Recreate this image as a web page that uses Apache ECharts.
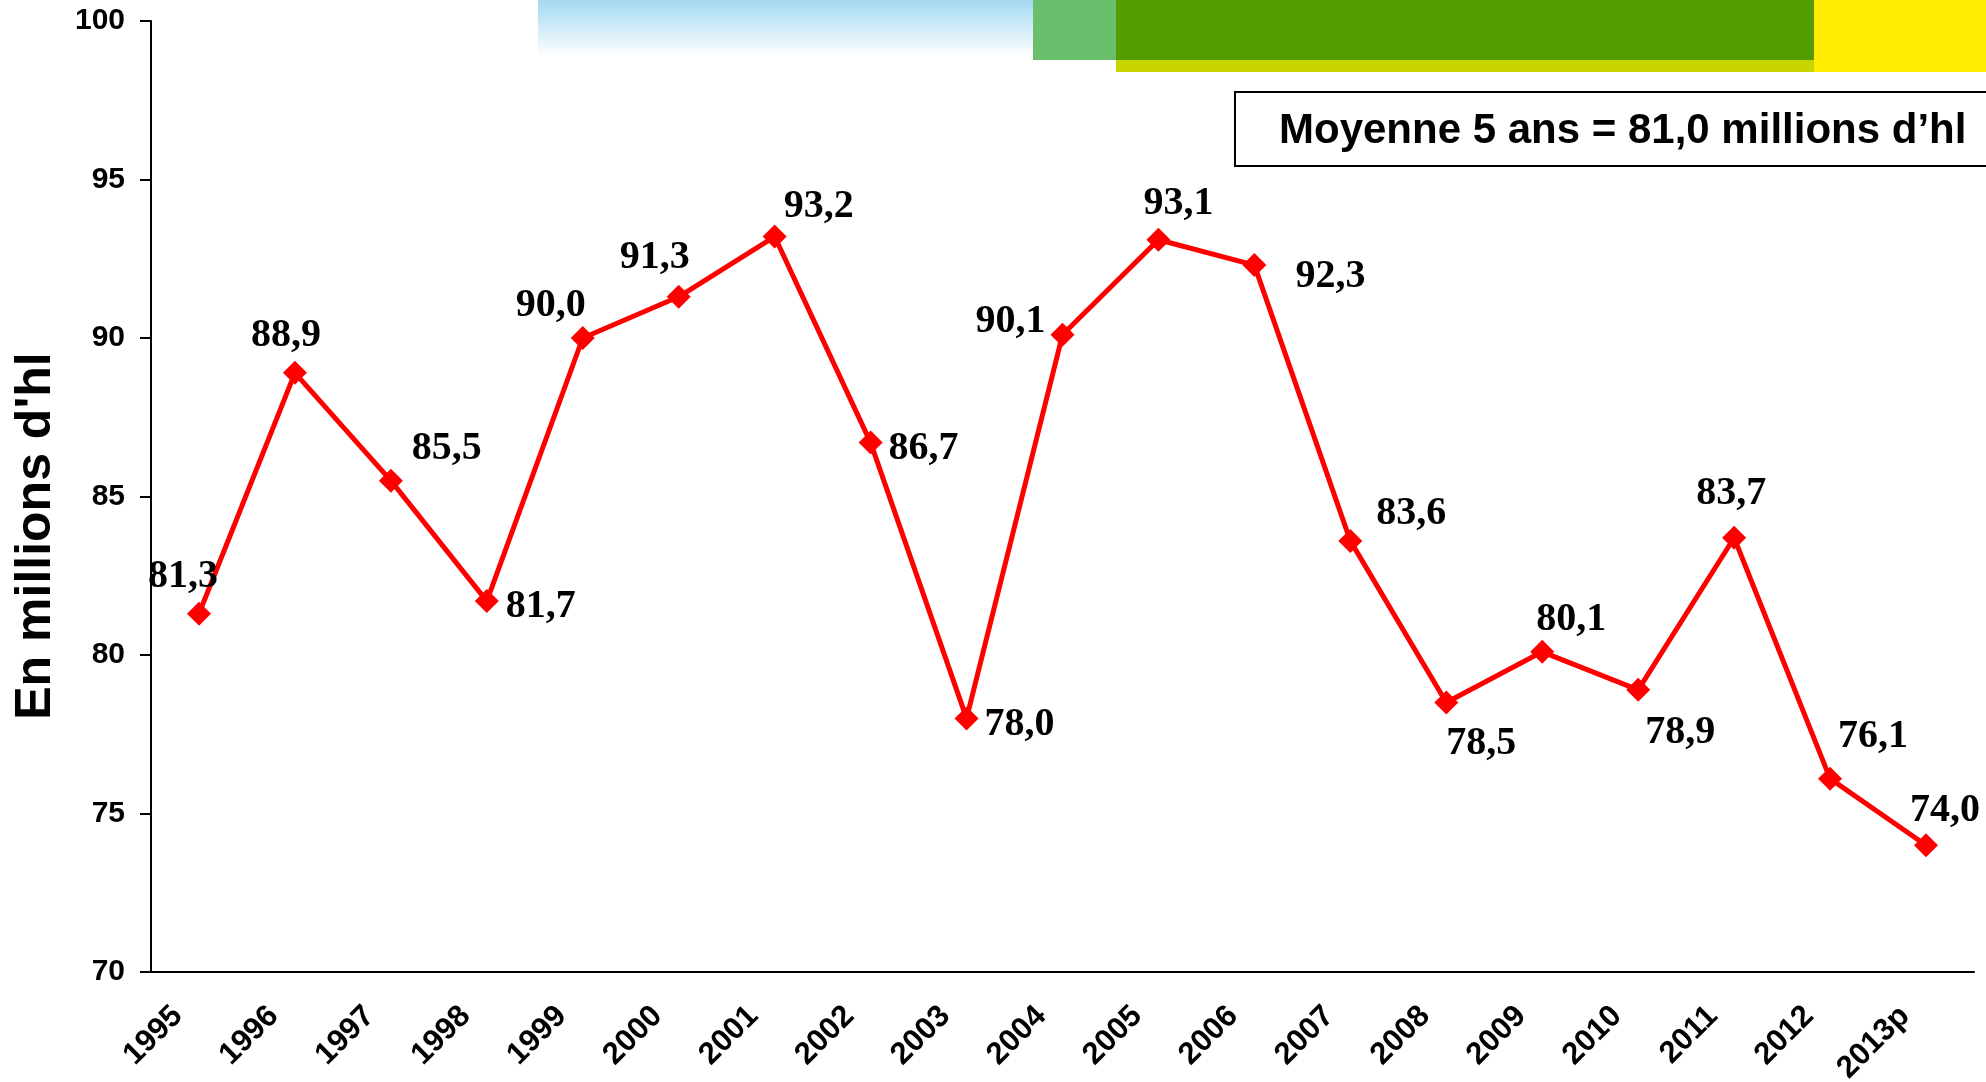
<!DOCTYPE html>
<html>
<head>
<meta charset="utf-8">
<script src="https://cdn.jsdelivr.net/npm/echarts@6/dist/echarts.min.js"></script>
<style>
  html, body { margin: 0; padding: 0; background: #fff; }
  #chart { width: 1986px; height: 1082px; }
</style>
</head>
<body>
<div id="chart"></div>
<script>
// données : production en millions d'hl
var annees = ['1995', '1996', '1997', '1998', '1999', '2000', '2001', '2002', '2003', '2004',
              '2005', '2006', '2007', '2008', '2009', '2010', '2011', '2012', '2013p'];
var production = [81.3, 88.9, 85.5, 81.7, 90.0, 91.3, 93.2, 86.7, 78.0, 90.1,
                  93.1, 92.3, 83.6, 78.5, 80.1, 78.9, 83.7, 76.1, 74.0];
var moyenneTexte = 'Moyenne 5 ans = 81,0 millions d\u2019hl';

// décalage des étiquettes par rapport au point
var decalages = [[-16, -37], [-9, -37], [56, -32], [54, 6], [-32, -32], [-24, -39], [44, -30],
                 [53, 6], [53, 6], [-52, -13], [20, -36], [76, 12], [61, -27], [35, 41],
                 [29, -32], [42, 43], [-3, -44], [43, -42], [19, -35]];

var myChart = echarts.init(document.getElementById('chart'));

var donnees = production.map(function (v, i) {
    return { value: v, label: { offset: decalages[i] } };
});

var option = {
    animation: false,
    grid: { left: 151, right: 12, top: 21, bottom: 110, outerBoundsMode: 'none', containLabel: false },
    xAxis: {
        type: 'category',
        data: annees,
        boundaryGap: true,
        axisLine: { lineStyle: { color: '#000', width: 2 } },
        axisTick: { length: 9, lineStyle: { color: '#000', width: 2 } },
        axisLabel: {
            rotate: 45,
            margin: 18,
            padding: [0, 30, 0, 0],
            color: '#000',
            fontFamily: '"Liberation Sans", Arial, sans-serif',
            fontWeight: 'bold',
            fontSize: 31
        }
    },
    yAxis: {
        type: 'value',
        min: 70,
        max: 100,
        interval: 5,
        splitLine: { show: false },
        axisLine: { show: true, lineStyle: { color: '#000', width: 2 } },
        axisTick: { show: true, length: 11, lineStyle: { color: '#000', width: 2 } },
        axisLabel: {
            margin: 26,
            color: '#000',
            fontFamily: '"Liberation Sans", Arial, sans-serif',
            fontWeight: 'bold',
            fontSize: 30
        }
    },
    graphic: [
        {
            type: 'rect', z: -10,
            shape: { x: 538, y: 0, width: 495, height: 57 },
            style: {
                fill: new echarts.graphic.LinearGradient(0, 0, 0, 1, [
                    { offset: 0, color: '#a4d9f2' },
                    { offset: 1, color: '#ffffff' }
                ])
            }
        },
        { type: 'rect', z: -10, shape: { x: 1033, y: 0, width: 83, height: 60 }, style: { fill: '#6abf6c' } },
        { type: 'rect', z: -10, shape: { x: 1116, y: 0, width: 698, height: 60 }, style: { fill: '#539d00' } },
        { type: 'rect', z: -10, shape: { x: 1116, y: 60, width: 698, height: 12 }, style: { fill: '#c8d500' } },
        { type: 'rect', z: -10, shape: { x: 1814, y: 0, width: 172, height: 72 }, style: { fill: '#ffec00' } },
        {
            type: 'rect',
            shape: { x: 1235, y: 92, width: 800, height: 74 },
            style: { fill: '#fff', stroke: '#000', lineWidth: 2 }
        },
        {
            type: 'text',
            x: 1279, y: 131,
            style: {
                text: moyenneTexte,
                fill: '#000',
                font: 'bold 42px "Liberation Sans", Arial, sans-serif',
                textAlign: 'left',
                textVerticalAlign: 'middle'
            }
        },
        {
            type: 'text',
            x: 36, y: 536,
            rotation: Math.PI / 2,
            style: {
                text: "En millions d'hl",
                fill: '#000',
                font: 'bold 50px "Liberation Sans", Arial, sans-serif',
                textAlign: 'center',
                textVerticalAlign: 'middle'
            }
        }
    ],
    series: [
        {
            type: 'line',
            data: donnees,
            symbol: 'diamond',
            symbolSize: 24,
            lineStyle: { color: '#ff0000', width: 5 },
            itemStyle: { color: '#ff0000' },
            label: {
                show: true,
                position: 'inside',
                align: 'center',
                verticalAlign: 'middle',
                color: '#000',
                fontFamily: '"Liberation Serif", "Times New Roman", serif',
                fontWeight: 'bold',
                fontSize: 40,
                formatter: function (p) {
                    return p.value.toFixed(1).replace('.', ',');
                }
            }
        }
    ]
};

myChart.setOption(option);
</script>
</body>
</html>
